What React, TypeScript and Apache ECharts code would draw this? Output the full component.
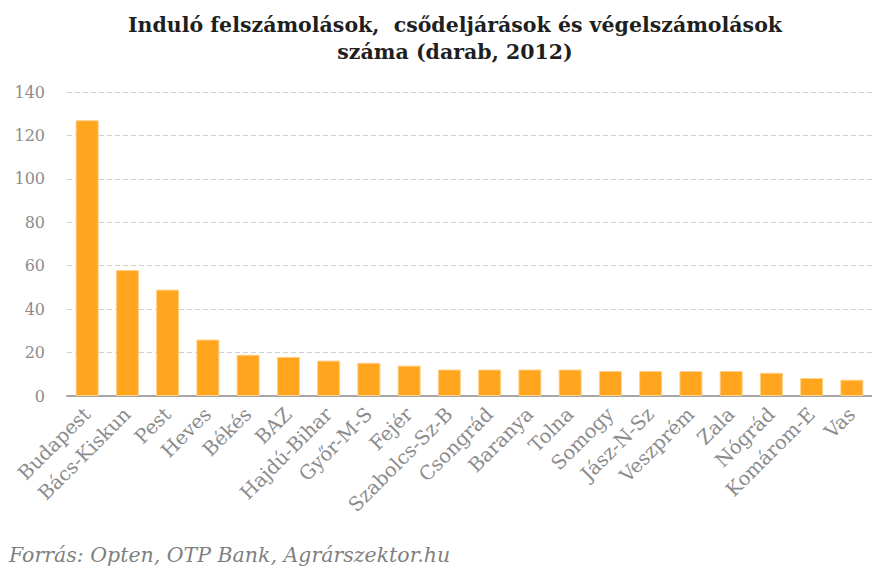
import React, { useEffect, useRef } from "react";
import * as echarts from "echarts";

const titleLines = ["Induló felszámolások,  csődeljárások és végelszámolások", "száma (darab, 2012)"];
const source = "Forrás: Opten, OTP Bank, Agrárszektor.hu";
const counties = [
  "Budapest", "Bács-Kiskun", "Pest", "Heves", "Békés", "BAZ", "Hajdú-Bihar", "Győr-M-S",
  "Fejér", "Szabolcs-Sz-B", "Csongrád", "Baranya", "Tolna", "Somogy", "Jász-N-Sz",
  "Veszprém", "Zala", "Nógrád", "Komárom-E", "Vas",
];
const counts = [127, 58, 49, 26, 19, 18, 16.3, 15.3, 14, 12.2, 12.2, 12.2, 12.2, 11.5, 11.5, 11.5, 11.5, 10.7, 8.3, 7.5];
const yTicks = [0, 20, 40, 60, 80, 100, 120, 140];

export default function App() {
  const ref = useRef<HTMLDivElement>(null);
  useEffect(() => {
    if (!ref.current) return;
    const chart = echarts.init(ref.current, null, { renderer: "svg" });
    chart.setOption({
      animation: false,
      backgroundColor: "#ffffff",
      title: {
        text: titleLines.join("\n"),
        left: 450,
        top: 6,
        textAlign: "center",
        textStyle: {
          fontFamily: "DejaVu Serif",
          fontWeight: "bold",
          fontSize: 20.5,
          lineHeight: 27,
          color: "#1f1f1f",
        },
      },
      graphic: [
        {
          type: "text",
          left: 9,
          top: 545,
          style: {
            text: source,
            font: "italic 20.5px 'DejaVu Serif', serif",
            fill: "#7f7f7f",
          },
        },
      ],
      grid: { left: 67, top: 92, width: 814, height: 304, containLabel: false },
      xAxis: {
        type: "category",
        data: counties,
        axisLine: { lineStyle: { color: "#a6a6a6", width: 2 } },
        axisTick: { show: false },
        axisLabel: {
          rotate: 45,
          interval: 0,
          margin: 15,
          fontFamily: "DejaVu Serif",
          fontSize: 19.5,
          color: "#8c8c8c",
        },
      },
      yAxis: {
        type: "value",
        min: yTicks[0],
        max: yTicks[yTicks.length - 1],
        interval: 20,
        axisLine: { show: false },
        axisTick: { show: false },
        axisLabel: {
          margin: 22,
          fontFamily: "DejaVu Serif",
          fontSize: 16,
          color: "#8c8c8c",
        },
        splitLine: { lineStyle: { color: "#d0d0d0", type: [5, 3], width: 1 } },
      },
      series: [
        {
          type: "bar",
          data: counts,
          barWidth: 23,
          itemStyle: { color: "#FFA51E", borderColor: "#FFD08A", borderWidth: 1 },
        },
      ],
    });
    return () => chart.dispose();
  }, []);
  return <div ref={ref} style={{ width: 872, height: 573, position: "absolute", left: 0, top: 0 }} />;
}
